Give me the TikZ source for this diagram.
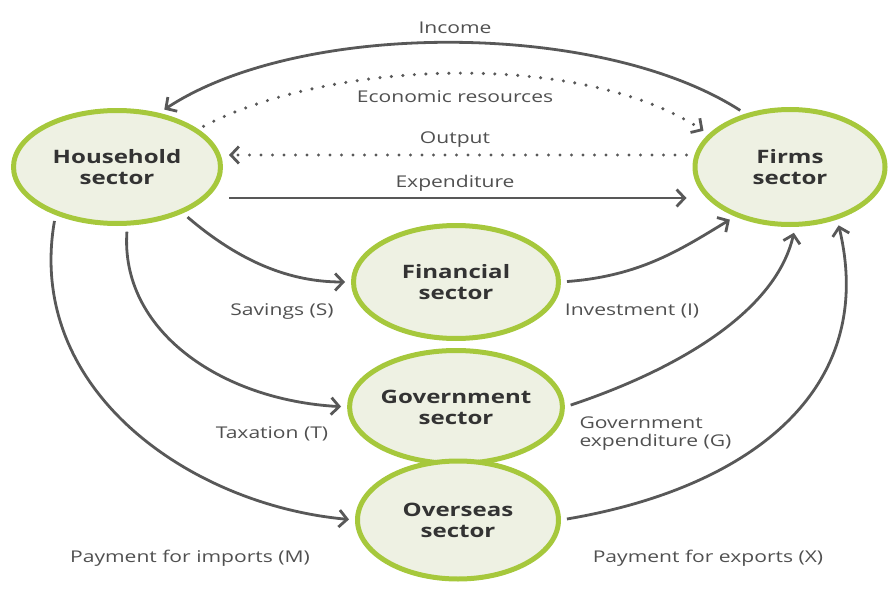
\documentclass[tikz,border=0pt]{standalone}
\usepackage{fontspec}
\setmainfont{Open Sans}
\newfontfamily\widesans[FakeStretch=1.3]{Open Sans}
\usetikzlibrary{shapes.geometric,arrows.meta}
\definecolor{ringgreen}{HTML}{A6C83C}
\definecolor{sectorfill}{HTML}{EEF1E3}
\definecolor{flowgrey}{HTML}{585858}
\definecolor{labelgrey}{HTML}{505050}

\begin{document}
\begin{tikzpicture}[x=1pt, y=-1pt,
    sector/.style = {ellipse, draw=ringgreen, line width=5pt, fill=sectorfill,
        inner sep=0pt, align=center, text=black!80,
        font=\widesans\bfseries\fontsize{18.5}{21}\selectfont},
    flow/.style = {draw=flowgrey, line width=2.8pt,
        -{Straight Barb[length=8pt,width=17pt,line width=2.8pt]},
        shorten <=6pt, shorten >=6pt},
    dotflow/.style = {flow, line width=3.4pt, dash pattern=on 0pt off 11.5pt, line cap=round},
    lbl/.style = {text=labelgrey, font=\widesans\fontsize{16.2}{18}\selectfont}]
    \useasboundingbox (0,0) rectangle (889,594);

    % sectors
    \node[sector, minimum width=207pt, minimum height=113pt] (hh) at (117,167) {Household\\sector};
    \node[sector, minimum width=190pt, minimum height=115pt] (firms) at (790,167) {Firms\\sector};
    \node[sector, minimum width=205pt, minimum height=113pt] (fin) at (456,282) {Financial\\sector};
    \node[sector, minimum width=203pt, minimum height=113pt] (gov) at (456,407) {Government\\sector};
    \node[sector, minimum width=201pt, minimum height=118pt] (over) at (458,520) {Overseas\\sector};

    % flows between household and firms
    \draw[flow] (firms.130) .. controls (600,20) and (300,20) .. (hh.52);
    \draw[dotflow] (hh.25) .. controls (330,60) and (580,50) .. (firms.158);
    \draw[dotflow] ([yshift=12pt]firms.west) -- ([yshift=12pt]hh.east);
    \draw[flow] ([yshift=-31pt]hh.east) -- ([yshift=-31pt]firms.west);

    % flows through the other sectors
    \draw[flow] (hh.-35) .. controls (240,262) and (290,282) .. (fin.west);
    \draw[flow] (fin.east) .. controls (640,276) and (680,250) .. (firms.-138);
    \draw[flow] (hh.-80) .. controls (120,330) and (220,400) .. (gov.west);
    \draw[flow] (gov.east) .. controls (670,372) and (775,315) .. (firms.-85);
    \draw[flow] (hh.-142) .. controls (25,390) and (190,505) .. (over.west);
    \draw[flow] (over.east) .. controls (750,488) and (878,390) .. (firms.-48);

    % labels
    \node[lbl] (income) at (455,28) {Income};
    \node[lbl] (resources) at (455,97) {Economic resources};
    \node[lbl] (output) at (455,140) {Output};
    \node[lbl] (spend) at (455,183) {Expenditure};
    \node[lbl] (savings) at (282,311) {Savings (S)};
    \node[lbl] (invest) at (632,311) {Investment (I)};
    \node[lbl] (tax) at (272,434) {Taxation (T)};
    \node[lbl, align=left, anchor=west] (govspend) at (576,434) {Government\\expenditure (G)};
    \node[lbl] (imports) at (190,558) {Payment for imports (M)};
    \node[lbl] (exports) at (708,558) {Payment for exports (X)};
\end{tikzpicture}
\end{document}
